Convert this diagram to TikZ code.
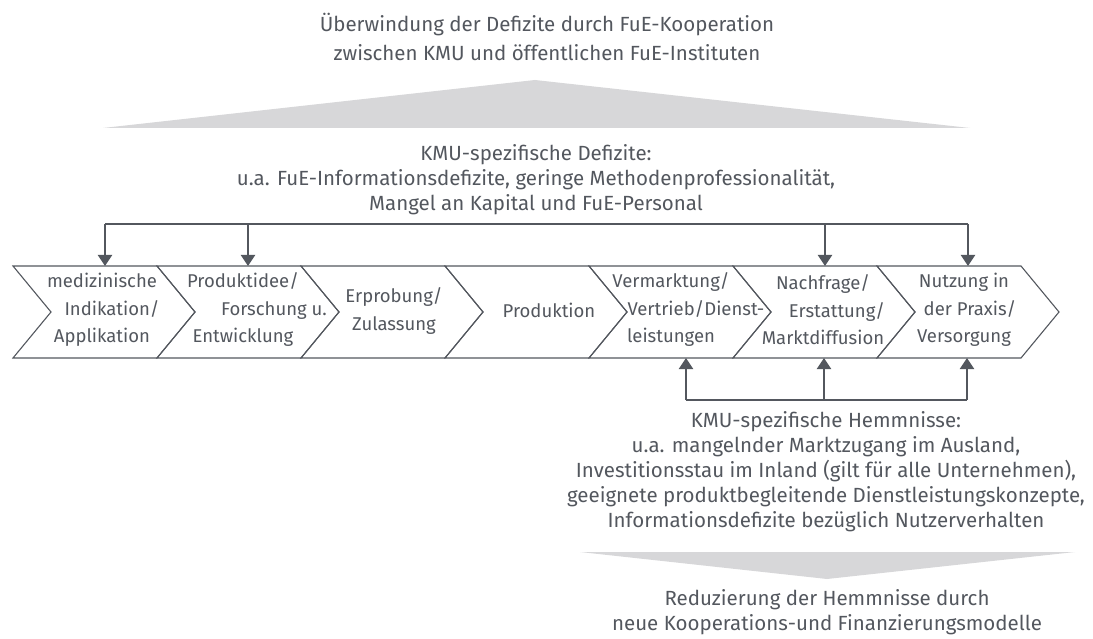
\documentclass[tikz,border=0pt]{standalone}
\usepackage{fontspec}
\setmainfont{Fira Sans}
\usetikzlibrary{arrows.meta}
\definecolor{txt}{HTML}{53575E}
\definecolor{ln}{HTML}{53575E}
\definecolor{wedge}{HTML}{D7D7D9}
\begin{document}
\begin{tikzpicture}[x=1pt,y=-1pt,
  lbl/.style={text=txt, align=center, font=\fontsize{20.5}{25}\selectfont, inner sep=0pt},
  clbl/.style={text=txt, align=center, font=\fontsize{18.5}{27.5}\selectfont, inner sep=0pt},
  chev/.style={draw=ln, line width=1.1pt, line join=miter},
  link/.style={draw=ln, line width=2pt},
  arr/.style={draw=ln, line width=2pt, -{Triangle[length=11pt,width=14pt]}},
]
\useasboundingbox (0,0) rectangle (1093,639);

% grey wedges
\fill[wedge] (103,128) -- (535,80) -- (970,128) -- cycle;
\fill[wedge] (580,552) -- (1075,552) -- (827,579) -- cycle;

% chevrons
\foreach \k in {0,...,6} {
  \pgfmathsetmacro\xa{13+144*\k}
  \pgfmathsetmacro\xb{13+144*(\k+1)}
  \draw[chev] (\xa,266) -- (\xb,266) -- (\xb+38,312) -- (\xb,358) -- (\xa,358) -- (\xa+38,312) -- cycle;
}

% texts
\node[lbl, font=\fontsize{20.5}{29}\selectfont] (title) at (547,37) {Überwindung der Defizite durch FuE-Kooperation\\zwischen KMU und öffentlichen FuE-Instituten};
\node[lbl] (defizite) at (536,180) {KMU-spezifische Defizite:\\u.a. FuE-Informationsdefizite, geringe Methodenprofessionalität,\\Mangel an Kapital und FuE-Personal};
\node[lbl] (hemmnisse) at (826,472) {KMU-spezifische Hemmnisse:\\u.a. mangelnder Marktzugang im Ausland,\\Investitionsstau im Inland (gilt für alle Unternehmen),\\geeignete produktbegleitende Dienstleistungskonzepte,\\Informationsdefizite bezüglich Nutzerverhalten};
\node[lbl] (reduz) at (827,612) {Reduzierung der Hemmnisse durch\\neue Kooperations-und Finanzierungsmodelle};

\node[clbl] (c1) at (102,310) {medizinische\\\hspace*{20pt}Indikation/\\Applikation};
\node[clbl] (c2) at (243,310) {Produktidee/\\\hspace*{62pt}Forschung u.\\Entwicklung};
\node[clbl] (c3) at (394,311) {Erprobung/\\Zulassung};
\node[clbl] (c4) at (549,310) {Produktion};
\node[clbl] (c5) at (671,310) {Vermarktung/\\\hspace*{50pt}Vertrieb/Dienst-\\leistungen};
\node[clbl] (c6) at (823,310) {Nachfrage/\\\hspace*{28pt}Erstattung/\\Marktdiffusion};
\node[clbl] (c7) at (964,310) {Nutzung in\\\hspace*{12pt}der Praxis/\\Versorgung};

% connectors top
\coordinate (t1) at (105,224);
\coordinate (t2) at (248,224);
\coordinate (t3) at (825,224);
\coordinate (t4) at (968,224);
\coordinate (e1) at (105,266);
\coordinate (e2) at (248,266);
\coordinate (e3) at (825,266);
\coordinate (e4) at (968,266);
\draw[link] (t1) -- (t4);
\foreach \i in {1,...,4} {\draw[arr] (t\i) -- (e\i);}

% connectors bottom
\coordinate (b1) at (686,400);
\coordinate (b2) at (824,400);
\coordinate (b3) at (967,400);
\coordinate (f1) at (686,358);
\coordinate (f2) at (824,358);
\coordinate (f3) at (967,358);
\draw[link] (b1) -- (b3);
\foreach \i in {1,...,3} {\draw[arr] (b\i) -- (f\i);}
\end{tikzpicture}
\end{document}
